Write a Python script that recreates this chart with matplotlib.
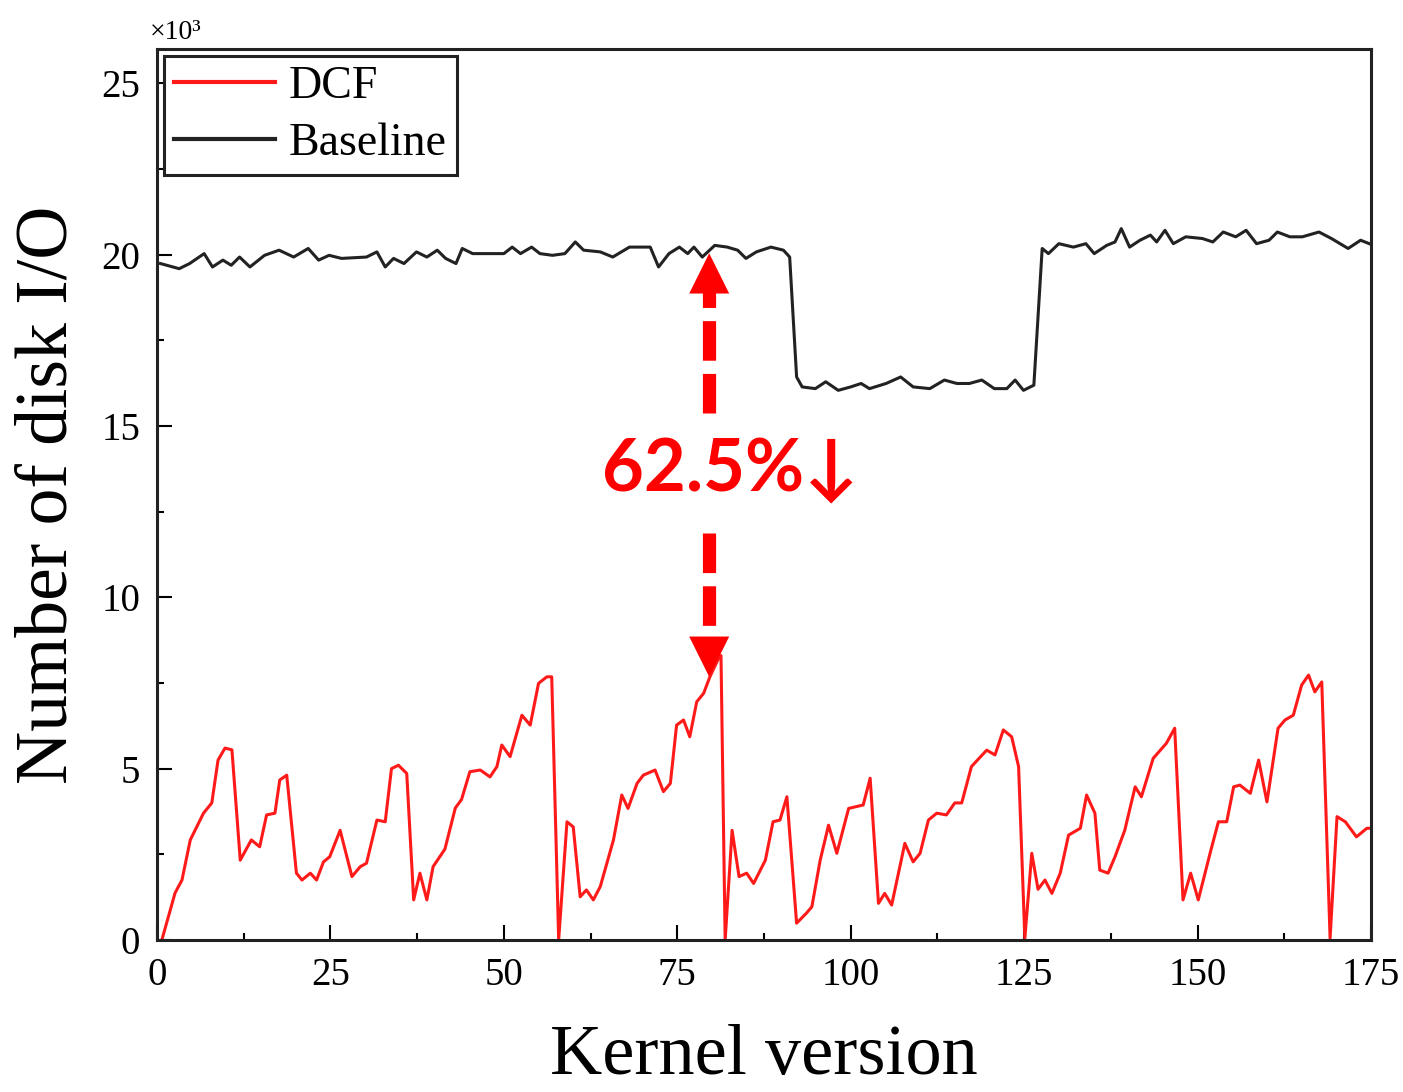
import matplotlib
matplotlib.use("Agg")
import matplotlib.pyplot as plt
from matplotlib.ticker import MultipleLocator

# 1. DATOS (unidades de 10^3)
dcf_x = [0.7, 2.6, 3.6, 4.8, 6.7, 7.9, 8.8, 9.8, 10.8, 12.0, 13.6, 14.8, 15.8, 17.0, 17.7, 18.7,
         20.1, 20.9, 22.1, 23.0, 24.0, 24.9, 26.4, 28.1, 29.3, 30.2, 31.7, 32.9, 33.8, 34.8, 36.0,
         37.0, 37.9, 38.9, 39.8, 41.5, 43.0, 43.9, 45.1, 46.6, 48.0, 49.0, 49.7, 50.9, 52.6, 53.8,
         55.0, 56.2, 56.9, 57.9, 59.1, 60.0, 61.0, 61.9, 62.9, 63.9, 65.8, 67.0, 67.9, 69.2, 70.1,
         71.8, 73.0, 74.0, 74.9, 75.9, 76.8, 77.8, 78.8, 79.7, 80.9, 81.3, 81.9, 82.9, 83.9, 85.0,
         86.0, 87.7, 88.8, 89.8, 90.8, 92.2, 93.6, 94.4, 95.6, 96.8, 98.0, 99.7, 101.8, 102.8,
         104.0, 104.9, 105.9, 107.8, 109.0, 110.0, 111.2, 112.4, 113.8, 115.0, 116.0, 117.4,
         119.6, 120.8, 122.0, 123.2, 124.2, 125.1, 126.1, 127.0, 128.0, 129.0, 130.2, 131.4,
         133.1, 134.0, 135.2, 135.9, 137.1, 138.1, 139.5, 141.0, 141.9, 143.6, 145.5, 146.7,
         147.9, 149.0, 150.1, 151.8, 153.0, 154.2, 155.2, 156.1, 157.6, 158.8, 160.0, 161.6,
         162.6, 163.8, 165.0, 166.0, 166.9, 167.9, 169.1, 170.1, 171.3, 172.9, 174.4, 175.0]
dcf_y = [0.0, 1.37, 1.75, 2.92, 3.7, 4.0, 5.25, 5.6, 5.55, 2.33, 2.92, 2.72, 3.65, 3.7, 4.67, 4.81,
         1.95, 1.75, 1.95, 1.75, 2.28, 2.43, 3.2, 1.85, 2.14, 2.24, 3.5, 3.45, 5.0, 5.1, 4.86,
         1.17, 1.95, 1.17, 2.14, 2.65, 3.85, 4.1, 4.91, 4.96, 4.76, 5.06, 5.69, 5.35, 6.56, 6.27,
         7.49, 7.68, 7.68, 0.0, 3.45, 3.3, 1.26, 1.46, 1.17, 1.56, 2.92, 4.23, 3.84, 4.57, 4.81,
         4.96, 4.33, 4.57, 6.27, 6.42, 5.93, 6.95, 7.2, 7.68, 8.2, 8.3, 0.0, 3.2, 1.85, 1.95,
         1.65, 2.33, 3.45, 3.5, 4.18, 0.49, 0.78, 0.97, 2.33, 3.35, 2.53, 3.84, 3.94, 4.72,
         1.07, 1.36, 1.02, 2.82, 2.28, 2.53, 3.5, 3.7, 3.65, 4.0, 4.0, 5.06,
         5.54, 5.4, 6.13, 5.93, 5.06, 0.05, 2.53, 1.48, 1.75, 1.36, 1.95, 3.06,
         3.26, 4.23, 3.7, 2.04, 1.95, 2.43, 3.2, 4.47, 4.18, 5.3, 5.74, 6.18,
         1.17, 1.95, 1.17, 2.53, 3.45, 3.45, 4.47, 4.52, 4.28, 5.25, 4.03, 6.18,
         6.42, 6.56, 7.44, 7.73, 7.24, 7.53, 0.05, 3.6, 3.45, 3.01, 3.26, 3.26]

base_x = [0.5, 3.2, 4.7, 6.8, 8.0, 9.5, 10.7, 11.9, 13.4, 15.5, 17.6, 19.7, 21.8, 23.3, 24.8, 26.6,
          30.2, 31.7, 32.9, 34.1, 35.6, 37.4, 38.9, 40.4, 41.6, 43.1, 44.0, 45.5, 50.0, 51.2, 52.4,
          54.0, 55.2, 57.0, 58.8, 60.3, 61.5, 63.9, 65.7, 68.1, 71.1, 72.3, 73.8, 75.3, 76.5, 77.4,
          78.6, 80.4, 82.2, 83.7, 84.9, 86.4, 88.5, 90.3, 91.2, 92.2, 93.0, 94.9, 96.4, 98.2, 100.0,
          101.5, 102.7, 105.1, 107.2, 109.0, 111.4, 113.5, 115.3, 117.1, 118.9, 120.7, 122.5,
          123.7, 124.9, 126.4, 127.6, 128.5, 130.0, 132.1, 133.9, 135.1, 136.9, 138.1, 139.0,
          140.2, 141.7, 143.2, 144.1, 145.3, 146.5, 148.3, 150.7, 152.2, 153.7, 155.5, 157.0,
          158.5, 160.3, 161.5, 163.3, 165.1, 167.5, 169.3, 171.7, 173.5, 175.0]
base_y = [19.74, 19.59, 19.74, 20.03, 19.64, 19.84, 19.69, 19.93, 19.64, 19.98, 20.13, 19.93, 20.18,
          19.84, 19.98, 19.89, 19.93, 20.08, 19.64, 19.89, 19.74, 20.08, 19.93, 20.13, 19.89, 19.74,
          20.18, 20.03, 20.03, 20.22, 20.03, 20.22, 20.03, 19.98, 20.03, 20.37, 20.13, 20.08, 19.93,
          20.22, 20.22, 19.64, 20.03, 20.22, 20.03, 20.22, 19.93, 20.27, 20.22, 20.13, 19.89, 20.08,
          20.22, 20.13, 19.93, 16.43, 16.14, 16.09, 16.29, 16.04, 16.14, 16.24, 16.09, 16.24, 16.43,
          16.14, 16.09, 16.34, 16.24, 16.24, 16.34, 16.09, 16.09, 16.34, 16.04, 16.19, 20.18, 20.03,
          20.32, 20.22, 20.32, 20.03, 20.27, 20.37, 20.76, 20.22, 20.42, 20.57, 20.37, 20.71, 20.32,
          20.52, 20.47, 20.37, 20.66, 20.52, 20.71, 20.32, 20.42, 20.66, 20.52, 20.52, 20.66, 20.47,
          20.18, 20.42, 20.3]

# posicion de la flecha de reduccion
arrow_x = 79.6
arrow_top = 20.04
arrow_bottom = 7.68
reduction_label = "62.5%↓"

# 2. FIGURA
plt.rcParams['font.family'] = ['Liberation Serif', 'DejaVu Serif']
fig = plt.figure(figsize=(14.03, 10.92), dpi=100)
ax = fig.add_axes([0.1119, 0.1392, 0.8653, 0.8159])

ax.plot(dcf_x, dcf_y, color='#ff1a1a', linewidth=2.2, label='DCF')
ax.plot(base_x, base_y, color='#222222', linewidth=2.2, label='Baseline')

ax.set_xlim(0, 175)
ax.set_ylim(0, 26)
ax.xaxis.set_major_locator(MultipleLocator(25))
ax.xaxis.set_minor_locator(MultipleLocator(12.5))
ax.yaxis.set_major_locator(MultipleLocator(5))
ax.yaxis.set_minor_locator(MultipleLocator(2.5))
ax.tick_params(which='major', direction='in', length=11, width=1.5, labelsize=28, pad=12)
ax.tick_params(which='minor', direction='in', length=5, width=1.5)
for sp in ax.spines.values():
    sp.set_linewidth(2.2)
    sp.set_color('#222222')

ax.set_xlabel('Kernel version', fontsize=52, labelpad=22)
ax.set_ylabel('Number of disk I/O', fontsize=53, labelpad=14)
ax.text(-0.006, 1.004, '×10³', transform=ax.transAxes, fontsize=20, ha='left', va='bottom')

leg = ax.legend(loc='upper left', fontsize=33, frameon=True, fancybox=False, shadow=False,
                handlelength=2.2, handletextpad=0.3, labelspacing=0.3, borderpad=0.22,
                borderaxespad=0.15, framealpha=1)
leg.get_frame().set_edgecolor('#222222')
leg.get_frame().set_linewidth(2.2)
for h in leg.get_lines():
    h.set_linewidth(3.0)

# 3. FLECHA DISCONTINUA CON EL PORCENTAJE
ax.plot([arrow_x, arrow_x], [15.38, 19.0], color='red', linewidth=9.5,
        dashes=(3.0, 1.0), dash_capstyle='butt')
ax.plot([arrow_x, arrow_x], [11.88, 8.9], color='red', linewidth=9.5,
        dashes=(3.0, 1.0), dash_capstyle='butt')
head = dict(arrowstyle='-|>,head_length=29,head_width=14.4', mutation_scale=1,
            facecolor='red', edgecolor='none', linewidth=0, shrinkA=0, shrinkB=0)
ax.annotate('', xy=(arrow_x, arrow_top), xytext=(arrow_x, 18.8), arrowprops=head)
ax.annotate('', xy=(arrow_x, arrow_bottom), xytext=(arrow_x, 8.92), arrowprops=head)
ax.text(82.6, 13.7, reduction_label, color='red', fontsize=52, fontweight='bold',
        family=['Lato', 'DejaVu Sans'], ha='center', va='center')

plt.savefig('out.png', dpi=100)
